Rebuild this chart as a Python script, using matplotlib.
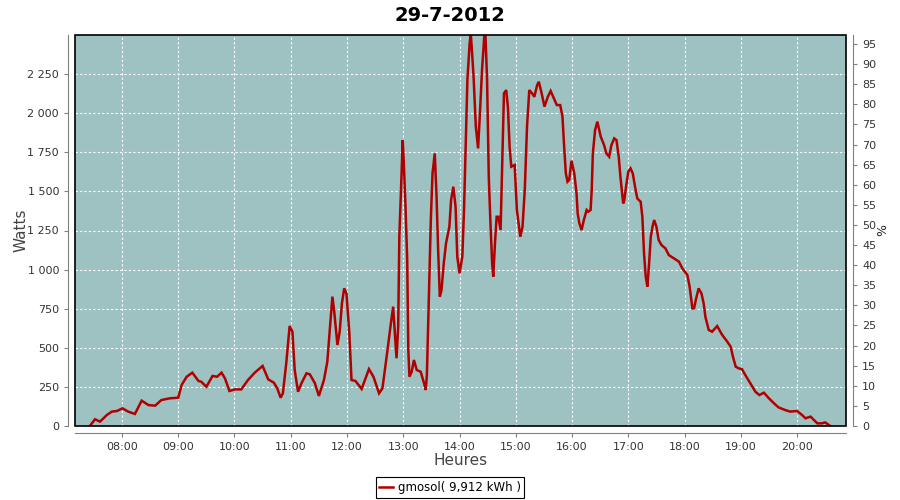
"""
Production solaire du 29-7-2012
"""

import matplotlib
matplotlib.use('Agg')
import matplotlib.pyplot as plt
from matplotlib.patches import Rectangle
from matplotlib.ticker import FuncFormatter

# heures décimales et puissance (W)
heures = [7.43, 7.52, 7.61, 7.73, 7.82, 7.91, 8.01, 8.11, 8.23, 8.35, 8.47, 8.59, 8.70,
          8.85, 9.00, 9.06, 9.15, 9.25, 9.36, 9.41, 9.50, 9.61, 9.69, 9.77, 9.83, 9.91,
          10.01, 10.12, 10.24, 10.36, 10.50, 10.60, 10.70, 10.76, 10.82, 10.86, 10.92,
          10.98, 11.03, 11.07, 11.13, 11.19, 11.28, 11.34, 11.43, 11.50,
          11.59, 11.65, 11.69, 11.74, 11.77, 11.83, 11.87, 11.91, 11.95, 11.99, 12.04,
          12.08, 12.15, 12.26, 12.39, 12.47, 12.57, 12.63, 12.72, 12.78, 12.82, 12.85,
          12.88, 12.91, 12.93, 12.96, 12.99, 13.01, 13.04, 13.07, 13.09, 13.11, 13.15,
          13.19, 13.24, 13.31, 13.37, 13.40, 13.42, 13.46, 13.49, 13.52, 13.56, 13.59,
          13.62, 13.65, 13.68, 13.72, 13.76, 13.82, 13.85, 13.89, 13.93, 13.96, 14.00,
          14.05, 14.08, 14.11, 14.14, 14.18, 14.20, 14.22, 14.25, 14.29, 14.33, 14.36,
          14.40, 14.44, 14.46, 14.49, 14.52, 14.55, 14.58, 14.60, 14.63, 14.66, 14.69,
          14.73, 14.76, 14.79, 14.83, 14.86, 14.89, 14.92, 14.98, 15.02, 15.05, 15.08,
          15.12, 15.16, 15.20, 15.24, 15.29, 15.33, 15.38, 15.41, 15.46, 15.51, 15.57,
          15.62, 15.69, 15.73, 15.79, 15.83, 15.86, 15.89, 15.92,
          15.95, 15.99, 16.04, 16.08, 16.10, 16.13, 16.17, 16.21, 16.26, 16.29, 16.33,
          16.35, 16.37, 16.41, 16.45, 16.51, 16.57, 16.61, 16.66, 16.70, 16.75, 16.79,
          16.83, 16.86, 16.91, 16.93, 16.96, 17.00, 17.04, 17.08, 17.12, 17.16, 17.22,
          17.25, 17.28, 17.31, 17.34, 17.37, 17.40, 17.43, 17.46, 17.50, 17.54, 17.59,
          17.66, 17.72, 17.81, 17.90, 17.96, 18.05, 18.09, 18.14, 18.17, 18.20, 18.25,
          18.30, 18.34, 18.37, 18.43, 18.49, 18.58, 18.67, 18.76, 18.82, 18.86, 18.91,
          18.96, 19.02, 19.08, 19.17, 19.26, 19.33, 19.41, 19.50, 19.59, 19.67, 19.79,
          19.88, 20.00, 20.09, 20.15, 20.24, 20.30, 20.36, 20.44, 20.50, 20.59]

watts = [0, 43, 28, 70, 92, 96, 113, 92, 77, 162, 134, 130, 166,
         177, 181, 262, 315, 341, 288, 283, 251, 320, 315, 341, 305, 224,
         234, 234, 294, 341, 384, 298, 277, 241, 181, 209, 401,
         639, 603, 358, 219, 273, 337, 330, 273, 192,
         294, 411, 592, 827, 742, 518, 603, 784, 880, 848, 603,
         294, 288, 237, 364, 315, 209, 241, 486, 656, 763, 603,
         433, 635, 1210, 1509, 1828, 1679, 1402, 1061, 486, 315, 347,
         422, 358, 347, 273, 230, 326, 891, 1317, 1615, 1743, 1487,
         1125, 827, 869, 1040, 1168, 1274, 1445, 1530, 1402, 1083, 976,
         1083, 1381, 1807, 2212, 2446, 2510, 2404, 2233, 1914, 1775, 1978,
         2276, 2490, 2510, 2212, 1594, 1296, 1040, 955, 1168, 1338, 1338,
         1253, 1700, 2127, 2148, 2042, 1786, 1658, 1669, 1381, 1296, 1210,
         1274, 1509, 1914, 2148, 2127, 2105, 2180, 2201, 2127, 2042, 2105,
         2142, 2084, 2052, 2052, 1978, 1786, 1615, 1562,
         1573, 1696, 1615, 1487, 1360, 1296, 1253, 1317, 1381, 1370, 1381,
         1509, 1743, 1892, 1946, 1850, 1796, 1743, 1722, 1796, 1839, 1828,
         1722, 1594, 1423, 1445, 1530, 1626, 1647, 1615, 1530, 1455, 1434,
         1338, 1104, 955, 891, 1040, 1210, 1274, 1317, 1274, 1189, 1157,
         1136, 1093, 1072, 1051, 1008, 965, 891, 752, 752, 806, 880,
         848, 784, 699, 614, 603, 639, 582, 539, 507, 443, 379,
         369, 364, 326, 273, 219, 198, 213, 177, 145, 119, 102,
         92, 96, 70, 49, 60, 38, 17, 17, 23, 0]

heures_ticks = list(range(8, 21))
watts_ticks = list(range(0, 2251, 250))
pct_ticks = list(range(0, 96, 5))

GRIS = '#808080'

fig = plt.figure(figsize=(9, 5), dpi=100)
ax = fig.add_axes([75 / 900, 74 / 500, 771 / 900, 391 / 500])
ax.set_facecolor('#9EC2C2')

ax.plot(heures, watts, color='#B00000', linewidth=1.8, solid_joinstyle='miter')

ax.set_xlim(7.165, 20.87)
ax.set_ylim(0, 2500)
ax.set_xticks(heures_ticks)
ax.set_xticklabels([f'{h:02d}:00' for h in heures_ticks])
ax.set_yticks(watts_ticks)
ax.yaxis.set_major_formatter(FuncFormatter(lambda v, p: f'{int(v):,}'.replace(',', ' ')))
ax.grid(True, color='white', linestyle=(0, (2, 2)), linewidth=0.8)
ax.set_axisbelow(True)

ax2 = ax.twinx()
ax2.set_ylim(0, 97.24)
ax2.set_yticks(pct_ticks)

for a in (ax, ax2):
    for s in a.spines.values():
        s.set_visible(False)
    a.tick_params(colors=GRIS, labelcolor='#333333', labelsize=8, length=3, width=0.8)

for side, a in (('left', ax), ('bottom', ax), ('right', ax2)):
    a.spines[side].set_visible(True)
    a.spines[side].set_position(('outward', 5))
    a.spines[side].set_color(GRIS)

# cadre noir du tracé
ax.add_patch(Rectangle((0, 0), 1, 1, transform=ax.transAxes, fill=False,
                       edgecolor='black', linewidth=1.2, clip_on=False, zorder=10))

ax.set_xlabel('Heures', fontsize=11, color='#444444', labelpad=1)
ax.set_ylabel('Watts', fontsize=11, color='#444444', labelpad=-1)
ax2.set_ylabel('%', fontsize=9, color='#222222', labelpad=0)
ax.set_title('29-7-2012', fontsize=14, fontweight='bold', pad=10, x=0.486)

leg = fig.legend(handles=ax.get_lines(), labels=['gmosol( 9,912 kWh )'],
                 loc='center', bbox_to_anchor=(0.5, 0.025), fontsize=8.5,
                 fancybox=False, framealpha=1, edgecolor='black',
                 handlelength=1.2, handletextpad=0.4, borderpad=0.3)
leg.get_frame().set_linewidth(0.8)

fig.savefig('out.png', dpi=100)
